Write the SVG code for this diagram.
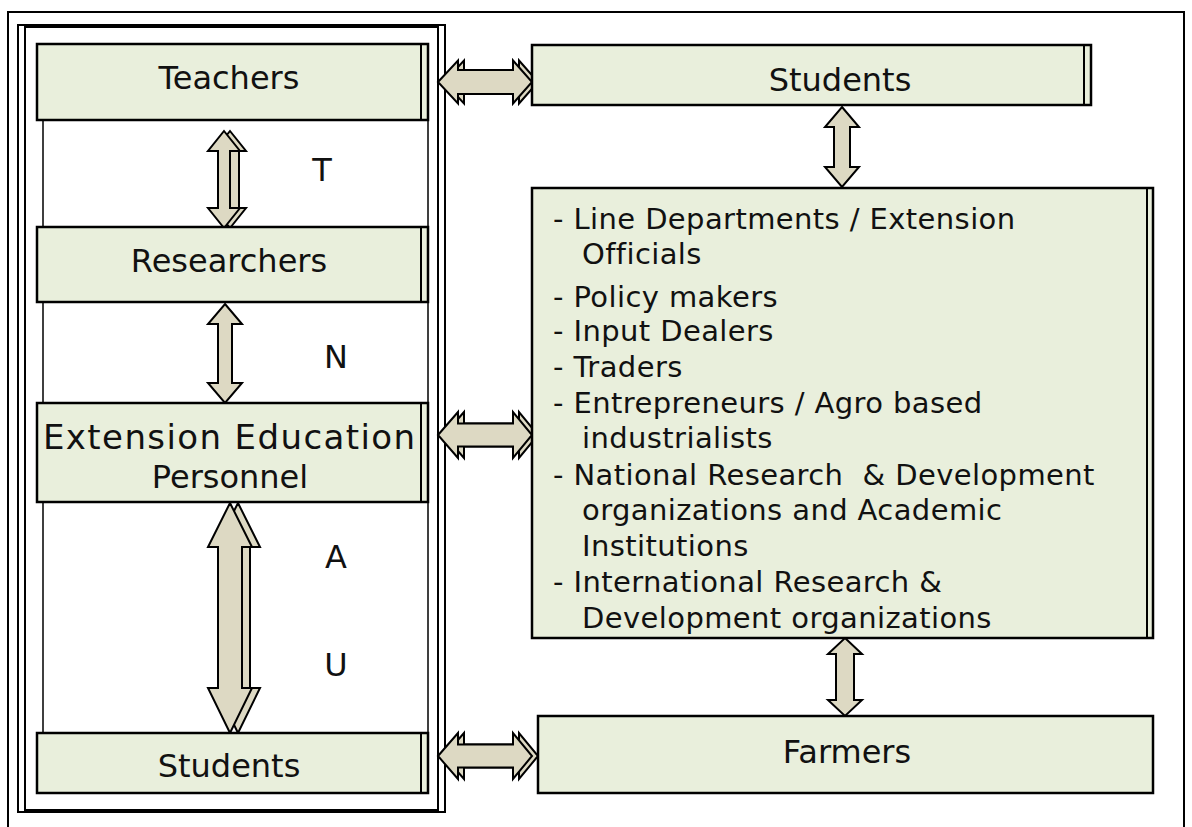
<svg xmlns="http://www.w3.org/2000/svg" width="1192" height="827" viewBox="0 0 1192 827">
<style>
.frame{fill:none;stroke:#000;stroke-width:2}
.box{fill:#e9efdc;stroke:#000;stroke-width:2.5}
.edge{fill:none;stroke:#000;stroke-width:2}
.arr{fill:#ddd9c3;stroke:#000;stroke-width:2;stroke-linejoin:miter}
.t{font-family:"DejaVu Sans",Verdana,sans-serif;font-size:32px;fill:#111}
.c{text-anchor:middle}
.l{font-family:"DejaVu Sans",Verdana,sans-serif;font-size:29px;letter-spacing:0.4px;fill:#111}
</style>
<rect width="1192" height="827" fill="#fff"/>
<g id="frame">
<path class="frame" d="M8,827 V12 H1184 V827"/>
<rect class="frame" x="18" y="25" width="427" height="787"/>
<rect class="frame" x="25" y="27" width="413" height="783"/>
<rect x="43" y="44" width="385" height="749" fill="#fff" stroke="#000" stroke-width="1.5"/>
</g>
<g id="connectors">
<path class="arr" d="M444,82 L464,60.5 V70 H519 V60.5 L538,82 L519,103.5 V94 H464 V103.5 Z"/>
<path class="arr" d="M438,82 L458,60.5 V70 H513 V60.5 L532,82 L513,103.5 V94 H458 V103.5 Z"/>
<path class="arr" d="M444,435 L464,412 V423.5 H519 V412 L538,435 L519,458 V446.5 H464 V458 Z"/>
<path class="arr" d="M438,435 L458,412 V423.5 H513 V412 L532,435 L513,458 V446.5 H458 V458 Z"/>
<path class="arr" d="M444,756 L464,733 V744.5 H519 V733 L538,756 L519,779 V767.5 H464 V779 Z"/>
<path class="arr" d="M438,756 L458,733 V744.5 H513 V733 L532,756 L513,779 V767.5 H458 V779 Z"/>
<path class="arr" d="M230,131 L246,151 H239 V208 H246 L230,228 L214,208 H221 V151 H214 Z"/>
<path class="arr" d="M224,131 L240,151 H230 V208 H240 L224,228 L208,208 H218 V151 H208 Z"/>
<path class="arr" d="M225,304 L242,324 H232 V383 H242 L225,403 L208,383 H218 V324 H208 Z"/>
<path class="arr" d="M238,503 L260,547 H250 V688 H260 L238,733 L216,688 H226 V547 H216 Z"/>
<path class="arr" d="M230,503 L252,547 H242 V688 H252 L230,733 L208,688 H218 V547 H208 Z"/>
<path class="arr" d="M842,107 L859,127 H850 V167 H859 L842,187 L825,167 H834 V127 H825 Z"/>
<path class="arr" d="M845,638 L862,654 H854 V700 H862 L845,716 L828,700 H836 V654 H828 Z"/>
</g>
<g id="n-teachers">
<rect class="box" x="37" y="44" width="391" height="76"/>
<line class="edge" x1="421" y1="44" x2="421" y2="120"/>
<text class="t c" x="229" y="89">Teachers</text>
</g>
<g id="n-researchers">
<rect class="box" x="37" y="227" width="391" height="75"/>
<line class="edge" x1="421" y1="227" x2="421" y2="302"/>
<text class="t c" x="229" y="272">Researchers</text>
</g>
<g id="n-extension">
<rect class="box" x="37" y="403" width="391" height="99"/>
<line class="edge" x1="421" y1="403" x2="421" y2="502"/>
<text class="t c" x="229" y="449" style="font-size:34px" textLength="372" lengthAdjust="spacing">Extension Education</text>
<text class="t c" x="230" y="488">Personnel</text>
</g>
<g id="n-students-left">
<rect class="box" x="37" y="733" width="391" height="60"/>
<line class="edge" x1="421" y1="733" x2="421" y2="793"/>
<text class="t c" x="229" y="777">Students</text>
</g>
<g id="letters">
<text class="t c" x="322" y="181">T</text>
<text class="t c" x="336" y="368">N</text>
<text class="t c" x="336" y="568">A</text>
<text class="t c" x="336" y="676">U</text>
</g>
<g id="n-students-right">
<rect class="box" x="532" y="45" width="559" height="60"/>
<line class="edge" x1="1084" y1="45" x2="1084" y2="105"/>
<text class="t c" x="840" y="91">Students</text>
</g>
<g id="n-stakeholders">
<rect class="box" x="532" y="188" width="621" height="450"/>
<line class="edge" x1="1147" y1="188" x2="1147" y2="638"/>
<text class="l" x="553" y="229">- Line Departments / Extension</text>
<text class="l" x="582" y="264">Officials</text>
<text class="l" x="553" y="307">- Policy makers</text>
<text class="l" x="553" y="341">- Input Dealers</text>
<text class="l" x="553" y="377">- Traders</text>
<text class="l" x="553" y="413">- Entrepreneurs / Agro based</text>
<text class="l" x="582" y="448">industrialists</text>
<text class="l" x="553" y="485" xml:space="preserve">- National Research  &amp; Development</text>
<text class="l" x="582" y="520">organizations and Academic</text>
<text class="l" x="582" y="556">Institutions</text>
<text class="l" x="553" y="592">- International Research &amp;</text>
<text class="l" x="582" y="628">Development organizations</text>
</g>
<g id="n-farmers">
<rect class="box" x="538" y="716" width="615" height="77"/>
<text class="t c" x="847" y="763">Farmers</text>
</g>
</svg>
